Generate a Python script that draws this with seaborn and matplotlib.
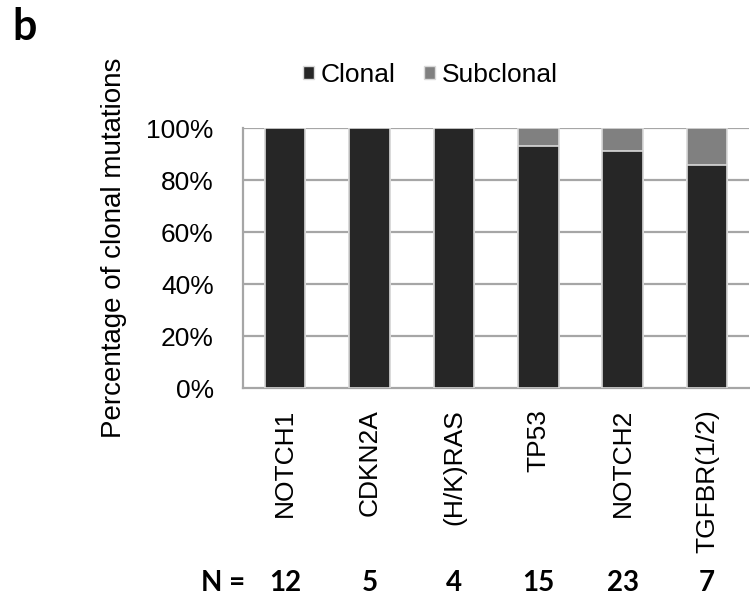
import pandas as pd
import matplotlib.pyplot as plt
import seaborn as sns
from matplotlib.patches import Patch

genes = ["NOTCH1", "CDKN2A", "(H/K)RAS", "TP53", "NOTCH2", "TGFBR(1/2)"]
n_total = [12, 5, 4, 15, 23, 7]
n_clonal = [12, 5, 4, 14, 21, 6]

df = pd.DataFrame({"gene": genes, "total": n_total, "clonal": n_clonal})
df["clonal_pct"] = df["clonal"] / df["total"] * 100
df["all_pct"] = 100.0

sns.set_style("white")
plt.rcParams["font.family"] = ["Liberation Sans", "DejaVu Sans"]
plt.rcParams["text.color"] = "black"

fig = plt.figure(figsize=(7.5, 5.99), dpi=100)
ax = fig.add_axes([0.324, 0.352, 0.675, 0.434])

grid_col = "#a6a6a6"
for v in [20, 40, 60, 80, 100]:
    ax.axhline(v, color=grid_col, lw=1.6, zorder=0)

# subclonal = full bar behind, clonal drawn on top
sns.barplot(data=df, x="gene", y="all_pct", color="#808080", width=0.48,
            edgecolor="#d9d9d9", linewidth=1.2, saturation=1, ax=ax, zorder=2)
sns.barplot(data=df, x="gene", y="clonal_pct", color="#262626", width=0.48,
            edgecolor="#d9d9d9", linewidth=1.2, saturation=1, ax=ax, zorder=3)

ax.set_xlim(-0.5, len(genes) - 0.5)
ax.set_ylim(0, 100)
ax.set_yticks([0, 20, 40, 60, 80, 100])
ax.set_yticklabels([f"{v}%" for v in [0, 20, 40, 60, 80, 100]], fontsize=19)
ax.set_ylabel("")
ax.set_xlabel("")
fig.text(114 / 750, 1 - 248 / 599, "Percentage of clonal mutations", rotation=90,
         ha="center", va="center", fontsize=20)

# category labels centred, tick marks at boundaries (excel style)
ax.set_xticks(range(len(genes)))
ax.set_xticklabels(genes, rotation=90, fontsize=19, va="top")
ax.set_xticks([i - 0.5 for i in range(len(genes) + 1)], minor=True)
ax.tick_params(axis="x", which="major", length=0, pad=15, labelcolor="black")
ax.tick_params(axis="x", which="minor", length=6, width=1.6, color=grid_col, direction="out")
ax.tick_params(axis="y", length=8, width=1.6, color=grid_col, direction="out", pad=13,
               labelcolor="black")

for s in ["top", "right"]:
    ax.spines[s].set_visible(False)
for s in ["left", "bottom"]:
    ax.spines[s].set_color(grid_col)
    ax.spines[s].set_linewidth(1.6)

# sample counts under each gene
ny = -0.75
ax.text(-0.48, ny, "N =", transform=ax.get_xaxis_transform(), ha="right", va="center",
        fontsize=20, fontweight="bold", family="Lato")
for i, n in enumerate(n_total):
    ax.text(i, ny, str(n), transform=ax.get_xaxis_transform(), ha="center", va="center",
            fontsize=20, fontweight="bold", family="Lato")

handles = [Patch(facecolor="#262626", edgecolor="#d9d9d9", label="Clonal"),
           Patch(facecolor="#808080", edgecolor="#d9d9d9", label="Subclonal")]
fig.legend(handles=handles, loc="center", bbox_to_anchor=(0.574, 0.875), ncol=2, frameon=False,
           fontsize=19, handlelength=0.42, handleheight=0.42, handletextpad=0.27, columnspacing=1.06)

fig.text(0.016, 0.955, "b", fontsize=31, fontweight="bold", family="Lato", va="center")

fig.savefig("out.png", dpi=100)
